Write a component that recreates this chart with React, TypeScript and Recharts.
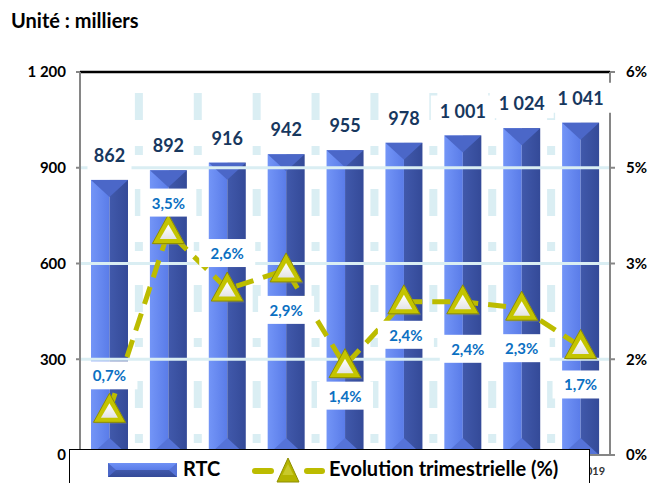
import React from 'react';
import {
  ComposedChart,
  Bar,
  Line,
  XAxis,
  YAxis,
  CartesianGrid,
  ReferenceLine,
  LabelList,
  Legend,
} from 'recharts';

const categories = ['T1 2017', 'T2 2017', 'T3 2017', 'T4 2017', 'T1 2018', 'T2 2018', 'T3 2018', 'T4 2018', 'T1 2019'];
const rtcValues = [862, 892, 916, 942, 955, 978, 1001, 1024, 1041];
const evolutionValues = [0.007, 0.035, 0.026, 0.029, 0.014, 0.024, 0.024, 0.023, 0.017];
const leftTicks = [0, 300, 600, 900, 1200];
const rightTicks = [0, 0.015, 0.03, 0.045, 0.06];
const gridLevels = [300, 600, 900];

// label placement relative to the point (layout only)
const pctLabelDy = [-35, -29, -36, 40, 30, 33, 47, 40, 38];
const pctLabelDx = [0, 0, 0, 0, 0, 2, 5, 0, 0];

const data = categories.map((name, i) => ({ name, rtc: rtcValues[i], evo: evolutionValues[i] }));

const FONT = 'Lato, "Open Sans", sans-serif';

const fmtThousands = (v: number) => String(v).replace(/\B(?=(\d{3})+(?!\d))/g, ' ');
const fmtPct1 = (v: number) => (v * 100).toFixed(1).replace('.', ',') + '%';
const fmtPct0 = (v: number) => Math.round(v * 100 + 1e-9) + '%';

const BeveledBar = (props: any) => {
  const { x, y, width, height, index } = props;
  if (height <= 0) return null;
  const bev = Math.min(17, height / 2);
  const mid = x + width / 2;
  const idL = `barL${index}`;
  const idR = `barR${index}`;
  return (
    <g>
      <defs>
        <linearGradient id={idL} x1="0" y1="0" x2="1" y2="0">
          <stop offset="0%" stopColor="#7395f7" />
          <stop offset="100%" stopColor="#5a7ce8" />
        </linearGradient>
        <linearGradient id={idR} x1="0" y1="0" x2="1" y2="0">
          <stop offset="0%" stopColor="#4159ab" />
          <stop offset="100%" stopColor="#344a98" />
        </linearGradient>
      </defs>
      <rect x={x} y={y} width={width / 2} height={height} fill={`url(#${idL})`} />
      <rect x={mid} y={y} width={width / 2} height={height} fill={`url(#${idR})`} />
      <polygon points={`${x},${y} ${x + width},${y} ${mid},${y + bev}`} fill="#4b67c8" />
      <polygon points={`${x},${y + height} ${mid},${y + height - bev} ${x + width},${y + height}`} fill="#5573d8" />
    </g>
  );
};

const TriangleDot = (props: any) => {
  const { cx, cy, index } = props;
  if (cx == null || cy == null) return null;
  const gid = `tri${index}`;
  return (
    <g>
      <defs>
        <linearGradient id={gid} x1="0" y1="0" x2="0" y2="1">
          <stop offset="0%" stopColor="#ffffff" />
          <stop offset="100%" stopColor="#e4e4e4" />
        </linearGradient>
      </defs>
      <polygon
        points={`${cx + 1.5},${cy - 15.5} ${cx - 14.5},${cy + 13.5} ${cx + 17.5},${cy + 13.5}`}
        fill="#9a9a7a"
        opacity={0.35}
      />
      <polygon
        points={`${cx},${cy - 17} ${cx - 16},${cy + 12} ${cx + 16},${cy + 12}`}
        fill="#c4c400"
        stroke="#8e8e00"
        strokeWidth={1}
      />
      <polygon points={`${cx},${cy - 7} ${cx - 8.5},${cy + 7.5} ${cx + 8.5},${cy + 7.5}`} fill={`url(#${gid})`} />
    </g>
  );
};

const BarValueLabel = (props: any) => {
  const { x, y, width, value } = props;
  const cx = x + width / 2;
  const cy = y - 25;
  const txt = fmtThousands(value);
  const w = txt.length * 10 + 14;
  return (
    <g>
      <rect x={cx - w / 2} y={cy - 15} width={w} height={30} fill="#ffffff" />
      <text
        x={cx}
        y={cy}
        textAnchor="middle"
        dominantBaseline="central"
        fontFamily={FONT}
        fontWeight={700}
        fontSize={18}
        fill="#17375e"
      >
        {txt}
      </text>
    </g>
  );
};

const PctLabel = (props: any) => {
  const { x, y, value, index } = props;
  const cx = x + (pctLabelDx[index] || 0);
  const cy = y + (pctLabelDy[index] || 0);
  return (
    <g>
      <rect x={cx - 28} y={cy - 14} width={56} height={28} fill="#ffffff" />
      <text
        x={cx}
        y={cy}
        textAnchor="middle"
        dominantBaseline="central"
        fontFamily={FONT}
        fontWeight={700}
        fontSize={15}
        fill="#0b70c2"
      >
        {fmtPct1(value)}
      </text>
    </g>
  );
};

// Only the last category label is left uncovered by the legend box in the reference
const CategoryTick = (props: any) => {
  const { x, y, payload, index } = props;
  if (index !== categories.length - 1) return null;
  return (
    <text
      x={x}
      y={y}
      dx={4}
      dy={10}
      textAnchor="middle"
      fontFamily={FONT}
      fontWeight={700}
      fontSize={11}
      fill="#333"
    >
      {payload.value}
    </text>
  );
};

const LegendBox = () => (
  <div
    style={{
      width: 521,
      height: 44,
      border: '1.5px solid #000',
      background: '#fff',
      boxSizing: 'border-box',
      position: 'relative',
      fontFamily: FONT,
      fontWeight: 700,
      fontSize: 20,
      lineHeight: '24px',
      color: '#000',
      whiteSpace: 'nowrap',
    }}
  >
    <svg width={69} height={16} style={{ position: 'absolute', left: 37.5, top: 11.5 }}>
      <defs>
        <linearGradient id="legBar" x1="0" y1="0" x2="0" y2="1">
          <stop offset="0%" stopColor="#6f91f5" />
          <stop offset="50%" stopColor="#5a7ce8" />
          <stop offset="50%" stopColor="#4159ab" />
          <stop offset="100%" stopColor="#344a98" />
        </linearGradient>
      </defs>
      <rect x={0} y={1} width={69} height={14} fill="url(#legBar)" />
      <polygon points="0,1 8,8 0,15" fill="#4b67c8" />
      <polygon points="69,1 61,8 69,15" fill="#5573d8" />
    </svg>
    <span style={{ position: 'absolute', left: 113, top: 6 }}>RTC</span>
    <svg width={74} height={30} style={{ position: 'absolute', left: 181, top: 4 }}>
      <line x1={4} y1={17} x2={20} y2={17} stroke="#bcbc00" strokeWidth={6} strokeLinecap="round" />
      <line x1={56} y1={17} x2={71} y2={17} stroke="#bcbc00" strokeWidth={6} strokeLinecap="round" />
      <polygon points="37,4 26,28 48,28" fill="#b4b400" stroke="#8e8e00" strokeWidth={1} />
      <polygon points="37,10 31.5,21 42.5,21" fill="#c9c92a" />
    </svg>
    <span style={{ position: 'absolute', left: 259, top: 6 }}>Evolution trimestrielle (%)</span>
  </div>
);

export default function App() {
  return (
    <div style={{ position: 'fixed', left: 0, top: 0, width: 653, height: 483, background: '#fff', overflow: 'hidden' }}>
      <div
        style={{
          position: 'absolute',
          left: 11,
          top: 8,
          fontFamily: FONT,
          fontWeight: 700,
          fontSize: 20,
          lineHeight: '24px',
          color: '#000',
          zIndex: 2,
        }}
      >
        Unité : milliers
      </div>
      <ComposedChart
        width={653}
        height={483}
        data={data}
        margin={{ top: 72, right: 3, bottom: 0, left: 20 }}
        barCategoryGap="18%"
      >
        <CartesianGrid
          horizontal={false}
          vertical={true}
          stroke="#daeef3"
          strokeWidth={8}
          strokeDasharray="27 26 9 34"
          strokeDashoffset={-21}
          verticalCoordinatesGenerator={({ offset }: any) => {
            const n = categories.length;
            const pts: number[] = [];
            for (let i = 1; i < n; i++) pts.push(offset.left + (i * offset.width) / n);
            return pts;
          }}
        />
        {gridLevels.map((lv) => (
          <ReferenceLine key={lv} yAxisId="left" y={lv} stroke="#daeef3" strokeWidth={3} />
        ))}
        <XAxis
          dataKey="name"
          height={28}
          tickLine={false}
          axisLine={{ stroke: '#868686', strokeWidth: 2 }}
          tick={CategoryTick}
          tickMargin={4}
          interval={0}
        />
        <YAxis
          yAxisId="left"
          width={60}
          domain={[0, 1200]}
          ticks={leftTicks}
          tickFormatter={fmtThousands}
          axisLine={{ stroke: '#868686', strokeWidth: 2 }}
          tickLine={{ stroke: '#868686', strokeWidth: 2 }}
          tickSize={4}
          tickMargin={10}
          tick={{ fontFamily: FONT, fontWeight: 700, fontSize: 15, fill: '#000' }}
        />
        <YAxis
          yAxisId="pct"
          orientation="right"
          width={40}
          domain={[0, 0.06]}
          ticks={rightTicks}
          tickFormatter={fmtPct0}
          axisLine={{ stroke: '#868686', strokeWidth: 2 }}
          tickLine={{ stroke: '#868686', strokeWidth: 2 }}
          tickSize={5}
          tickMargin={11}
          tick={{ fontFamily: FONT, fontWeight: 700, fontSize: 15, fill: '#000' }}
        />
        <ReferenceLine yAxisId="left" y={1200} stroke="#000" strokeWidth={2.5} />
        <Bar yAxisId="left" dataKey="rtc" barSize={37} shape={BeveledBar} isAnimationActive={false}>
          <LabelList dataKey="rtc" content={BarValueLabel} />
        </Bar>
        <Line
          yAxisId="pct"
          dataKey="evo"
          stroke="#bcbc00"
          strokeWidth={5}
          strokeDasharray="18 10"
          dot={TriangleDot}
          activeDot={false}
          isAnimationActive={false}
        >
          <LabelList dataKey="evo" content={PctLabel} />
        </Line>
        <Legend
          layout="horizontal"
          verticalAlign="middle"
          align="center"
          wrapperStyle={{ left: 69, top: 449, width: 521, height: 44 }}
          content={LegendBox}
        />
      </ComposedChart>
    </div>
  );
}
